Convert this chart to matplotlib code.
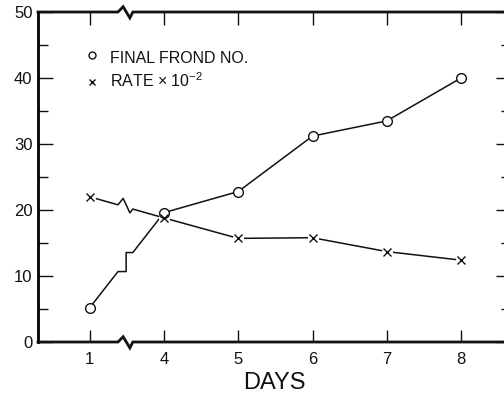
import matplotlib
matplotlib.use("Agg")
import matplotlib.pyplot as plt
import matplotlib.transforms as mtransforms
import numpy as np

# ---- data ----
days = [1, 4, 5, 6, 7, 8]
frond_no = [5.2, 19.6, 22.8, 31.2, 33.5, 40.0]
rate = [22.0, 18.8, 15.7, 15.8, 13.7, 12.4]
yticks = [0, 10, 20, 30, 40, 50]
yminor = [5, 15, 25, 35, 45]
xtick_labels = ["1", "4", "5", "6", "7", "8"]

plt.rcParams['font.family'] = ['Liberation Sans', 'DejaVu Sans']
plt.rcParams['mathtext.default'] = 'regular'

W, H = 504, 396
fig = plt.figure(figsize=(W / 100, H / 100), dpi=100)
L, R, B, T = 38, 511, 342, 12
ax = fig.add_axes([L / W, (H - B) / H, (R - L) / W, (B - T) / H])

# day 1 is drawn one unit left of day 4 (broken axis)
pos = [3 if d == 1 else d for d in days]
xl = (2.303, 8.673)
ax.set_xlim(*xl)
ax.set_ylim(0, 50)

b0, bp, bt, b1 = 3.38, 3.45, 3.54, 3.58
ink = '#111111'


def broken_path(x, y, kind):
    fx = lambda t: np.interp(t, [x[0], x[1]], [y[0], y[1]])
    xs, ys = [x[0], b0], [y[0], fx(b0)]
    if kind == 'step':
        xs += [3.49, 3.49, b1]
        ys += [fx(b0), fx(b1), fx(b1)]
    else:
        xs += [bp, bt, b1]
        ys += [fx(bp) + 1.2, fx(bt) - 0.7, fx(b1)]
    xs += list(x[1:])
    ys += list(y[1:])
    return xs, ys


xs, ys = broken_path(pos, frond_no, 'step')
ax.plot(xs, ys, color=ink, lw=1.1, zorder=2)
ax.plot(pos, frond_no, ls='none', marker='o', ms=7, mfc='white', mec=ink, mew=1.0, zorder=4)

xs, ys = broken_path(pos, rate, 'zig')
ax.plot(xs, ys, color=ink, lw=1.1, zorder=2)
ax.plot(pos, rate, ls='none', marker='o', ms=8, mfc='white', mec='none', zorder=3)
ax.plot(pos, rate, ls='none', marker='x', ms=5.5, mec=ink, mew=1.0, zorder=4)

# spines: top / bottom drawn with break marks
for s in ['top', 'bottom']:
    ax.spines[s].set_visible(False)
ax.spines['left'].set_linewidth(2.0)
ax.spines['right'].set_linewidth(2.0)
trans = mtransforms.blended_transform_factory(ax.transData, ax.transAxes)
for yb in [0.0, 1.0]:
    ax.plot([xl[0], b0, bp, bt, b1, xl[1]],
            [yb, yb, yb + 0.016, yb - 0.018, yb, yb],
            transform=trans, color=ink, lw=2.0, clip_on=False, zorder=5,
            solid_joinstyle='miter')

ax.set_xticks(pos)
ax.set_xticklabels(xtick_labels)
ax.set_yticks(yticks)
ax.set_yticks(yminor, minor=True)
ax.tick_params(axis='both', which='both', direction='in', top=True, right=True,
               colors=ink, labelsize=12, width=1.0)
ax.tick_params(axis='x', which='major', length=9, pad=7)
ax.tick_params(axis='y', which='major', length=11, pad=4)
ax.tick_params(axis='y', which='minor', length=7)

ax.set_xlabel('DAYS', fontsize=17, color=ink, labelpad=4,
              family=['Liberation Sans Narrow', 'Liberation Sans', 'DejaVu Sans'])

# legend (in-axes annotation)
def ax_xy(px, py):
    return (px - L) / (R - L), (B - py) / (B - T)

ax.plot(*ax_xy(92, 55), transform=ax.transAxes, marker='o', ms=5, mfc='white',
        mec=ink, mew=1.0, ls='none')
ax.plot(*ax_xy(92, 82), transform=ax.transAxes, marker='x', ms=5, mec=ink,
        mew=1.0, ls='none')
ax.text(*ax_xy(110, 63), 'FINAL FROND NO.', transform=ax.transAxes, fontsize=11.5,
        color=ink, va='baseline', ha='left')
ax.text(*ax_xy(110, 87), 'RATE $\\times$ 10$^{-2}$', transform=ax.transAxes,
        fontsize=11.5, color=ink, va='baseline', ha='left')

fig.savefig('out.png', dpi=100)
